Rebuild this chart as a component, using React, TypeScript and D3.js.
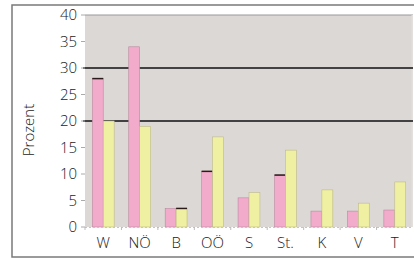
import React from 'react';
import * as d3 from 'd3';

const categories = ['W', 'NÖ', 'B', 'OÖ', 'S', 'St.', 'K', 'V', 'T'];
const pinkValues = [28, 34, 3.5, 10.5, 5.5, 9.8, 3, 3, 3.2];
const yellowValues = [20, 19, 3.5, 17, 6.5, 14.5, 7, 4.5, 8.5];
const yTicks = [0, 5, 10, 15, 20, 25, 30, 35, 40];
const gridValues = [20, 30];
// bars whose top edge is drawn dark in the original
const darkTopPink = ['W', 'OÖ', 'St.'];
const darkTopYellow = ['B'];

const W = 414;
const H = 259;
const left = 85;
const right = 413;
const top = 15;
const bottom = 227;
const font = "'Open Sans', 'Noto Sans', sans-serif";

export default function App() {
  const x = d3.scaleBand().domain(categories).range([left, right]).paddingInner(0.4).paddingOuter(0.2);
  const inner = d3.scaleBand().domain(['pink', 'yellow']).range([0, x.bandwidth()]);
  const y = d3.scaleLinear().domain([0, 40]).range([bottom, top]);
  const step = x.step();

  const series = [
    { key: 'pink', values: pinkValues, fill: '#f2abca', stroke: '#b98aa0', dark: darkTopPink },
    { key: 'yellow', values: yellowValues, fill: '#f0f0a2', stroke: '#bdb98a', dark: darkTopYellow },
  ];

  return (
    <svg width={W} height={H} style={{ position: 'absolute', left: 0, top: 0 }}>
      <rect x={0} y={0} width={W} height={H} fill="#fff" />
      <rect x={12} y={5} width={430} height={252} fill="#fff" stroke="#7a7a7a" strokeWidth={1.5} />
      {/* plot area */}
      <rect x={left} y={top} width={right - left} height={bottom - top} fill="#dcd8d5" />
      <line x1={left} x2={right} y1={y(40)} y2={y(40)} stroke="#9a9a9a" strokeWidth={1.2} />
      <rect x={right - 1.5} y={top} width={1.5} height={bottom - top} fill="#e3e0de" />
      {gridValues.map((v) => (
        <line key={v} x1={left - 2} x2={right} y1={y(v)} y2={y(v)} stroke="#111" strokeWidth={1.3} />
      ))}
      {/* y axis */}
      {yTicks.map((v) => (
        <g key={v}>
          <line x1={81} x2={left} y1={y(v)} y2={y(v)} stroke="#aaa" strokeWidth={1} />
          <text x={77} y={y(v)} dy="0.36em" textAnchor="end" fontFamily={font} fontWeight={300} fontSize={15} fill="#1a1a1a">
            {v}
          </text>
        </g>
      ))}
      <text
        transform={`translate(34, 130) rotate(-90)`}
        textAnchor="middle"
        fontFamily={font}
        fontWeight={300}
        fontSize={15}
        fill="#1a1a1a"
      >
        Prozent
      </text>
      {/* bars */}
      {series.map((s) =>
        categories.map((c, i) => {
          const bx = (x(c) as number) + (inner(s.key) as number);
          const bw = inner.bandwidth();
          const by = y(s.values[i]);
          return (
            <g key={s.key + c}>
              <rect x={bx} y={by} width={bw} height={bottom - by} fill={s.fill} stroke={s.stroke} strokeWidth={0.6} />
              {s.dark.includes(c) && (
                <line x1={bx} x2={bx + bw} y1={by} y2={by} stroke="#2a1a1a" strokeWidth={1.5} />
              )}
            </g>
          );
        })
      )}
      {/* x axis */}
      <line x1={left} x2={right} y1={bottom + 0.5} y2={bottom + 0.5} stroke="#c8c4c2" strokeWidth={1} strokeDasharray="2 2" />
      {categories.map((c, i) => (
        <line key={'t' + c} x1={left + i * step} x2={left + i * step} y1={bottom} y2={bottom + 3} stroke="#bbb" strokeWidth={1} />
      ))}
      {categories.map((c) => (
        <text
          key={'l' + c}
          x={(x(c) as number) + x.bandwidth() / 2}
          y={248}
          textAnchor="middle"
          fontFamily={font}
          fontWeight={300}
          fontSize={15}
          fill="#1a1a1a"
        >
          {c}
        </text>
      ))}
    </svg>
  );
}
